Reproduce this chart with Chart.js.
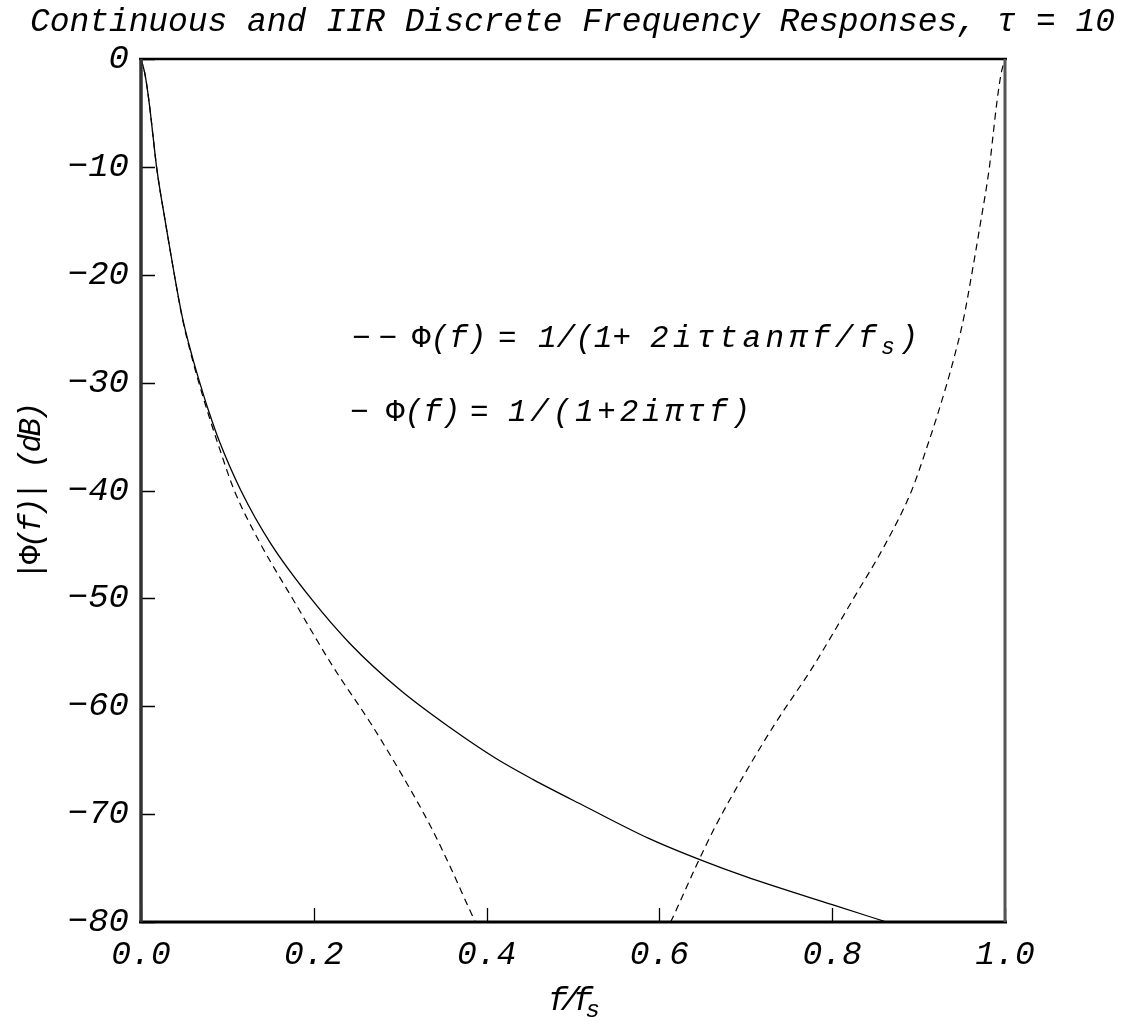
<!DOCTYPE html>
<html>
<head>
<meta charset="utf-8">
<script src="https://cdn.jsdelivr.net/npm/chart.js@4.4.1/dist/chart.umd.min.js"></script>
<style>
  html, body { margin: 0; padding: 0; background: #fff; }
  canvas { display: block; }
</style>
</head>
<body>
<canvas id="chart" width="1122" height="1026"></canvas>
<script>
// continuous response (f/fs, dB)
const freqCont = [0, 0.0046, 0.0097, 0.014, 0.018, 0.0286, 0.0386, 0.048, 0.059, 0.068,
  0.079, 0.090, 0.1156, 0.150, 0.1976, 0.242, 0.300, 0.358, 0.410, 0.454, 0.512, 0.589,
  0.646, 0.700, 0.800, 0.863];
const dbCont = [0, -1.4, -4.2, -7.2, -10.0, -15.3, -20.0, -24.0, -27.5, -30.0,
  -32.8, -35.3, -40.0, -44.9, -50.1, -54.2, -58.5, -62.0, -64.8, -66.8, -69.2, -72.3,
  -74.2, -75.8, -78.4, -80.0];

// IIR (bilinear) response, dashed; null = gap where it drops below -80
const freqIIR = [0, 0.0046, 0.0097, 0.014, 0.018, 0.0286, 0.0386, 0.048, 0.059, 0.068,
  0.079, 0.090, 0.108, 0.138, 0.176, 0.222, 0.266, 0.303, 0.335, 0.358, 0.380, 0.387,
  0.5,
  0.613, 0.620, 0.642, 0.665, 0.697, 0.734, 0.778, 0.824, 0.862, 0.892, 0.910,
  0.921, 0.932, 0.941, 0.952, 0.9614, 0.9714, 0.982, 0.986, 0.9903, 0.9954, 1.0];
const dbIIR = [0, -1.4, -4.2, -7.2, -10.0, -15.3, -20.0, -24.1, -27.7, -30.3,
  -33.2, -35.9, -40.0, -44.9, -50.1, -56.3, -61.6, -66.5, -71.1, -74.9, -78.8, -80.0,
  null,
  -80.0, -78.8, -74.9, -71.1, -66.5, -61.6, -56.3, -50.1, -44.9, -40.0, -35.9,
  -33.2, -30.3, -27.7, -24.1, -20.0, -15.3, -10.0, -7.2, -4.2, -1.4, 0];

const xRange = [0, 1];
const yRange = [-80, 0];

const FONT = '"Liberation Mono", "DejaVu Sans Mono", monospace';

function setFont(ctx, r) {
  ctx.font = (r.italic === false ? '' : 'italic ') + r.size + 'px ' + FONT;
}

// draws a list of text runs starting at x0, spread so the last glyph ends near x1
function drawRuns(ctx, runs, x0, x1, y) {
  ctx.letterSpacing = '0px';
  let natural = 0, chars = 0;
  runs.forEach(r => { setFont(ctx, r); natural += ctx.measureText(r.text).width; chars += [...r.text].length; });
  const sp = (x1 != null && chars > 1) ? (x1 - x0 - natural) / (chars - 1) : 0;
  let cx = x0;
  ctx.textAlign = 'left';
  ctx.textBaseline = 'alphabetic';
  runs.forEach(r => {
    setFont(ctx, r);
    ctx.letterSpacing = sp + 'px';
    ctx.fillText(r.text, cx, y + (r.dy || 0));
    ctx.letterSpacing = '0px';
    cx += ctx.measureText(r.text).width + sp * [...r.text].length;
  });
}

const labelsPlugin = {
  id: 'labels',
  afterDraw(chart) {
    const ctx = chart.ctx;
    ctx.save();
    ctx.fillStyle = '#000';

    drawRuns(ctx, [{ text: 'Continuous and IIR Discrete Frequency Responses, τ = 10', size: 33 }],
      30, 1115, 31);

    drawRuns(ctx, [{ text: 'f/f', size: 33 }, { text: 's', size: 24, dy: 7 }], 548, 600, 1010);

    ctx.save();
    ctx.translate(40, 580);
    ctx.rotate(-Math.PI / 2);
    drawRuns(ctx, [{ text: '|Φ', size: 31, italic: false }, { text: '(f)| (dB)', size: 31 }], 0, 178, 0);
    ctx.restore();

    const S = 31;
    // legend line 1 (dashed)
    drawRuns(ctx, [{ text: '−−', size: S, italic: false }], 352, 397, 347);
    drawRuns(ctx, [{ text: 'Φ', size: S, italic: false }, { text: '(f)', size: S }], 412, null, 347);
    drawRuns(ctx, [{ text: '=', size: S }], 498, null, 347);
    drawRuns(ctx, [{ text: '1/(1+', size: S }], 538, null, 347);
    drawRuns(ctx, [{ text: '2iτtanπf/f', size: S }, { text: 's', size: 23, dy: 7 }, { text: ')', size: S }],
      650, 918, 347);
    // legend line 2 (solid)
    drawRuns(ctx, [{ text: '−', size: S, italic: false }], 350, null, 421);
    drawRuns(ctx, [{ text: 'Φ', size: S, italic: false }, { text: '(f)', size: S }], 386, null, 421);
    drawRuns(ctx, [{ text: '=', size: S }], 470, null, 421);
    drawRuns(ctx, [{ text: '1/(1+2iπτf)', size: S }], 508, 750, 421);
    ctx.restore();
  }
};

const framePlugin = {
  id: 'frame',
  afterDatasetsDraw(chart) {
    const { ctx, chartArea: a, scales: { x, y } } = chart;
    ctx.save();
    ctx.strokeStyle = '#000';
    ctx.lineWidth = 1.3;
    ctx.beginPath();
    x.ticks.forEach(t => {
      const px = Math.round(x.getPixelForValue(t.value)) + 0.5;
      ctx.moveTo(px, a.bottom); ctx.lineTo(px, a.bottom - 14);
    });
    y.ticks.forEach(t => {
      const py = Math.round(y.getPixelForValue(t.value)) + 0.5;
      ctx.moveTo(a.left, py); ctx.lineTo(a.left + 14, py);
    });
    ctx.stroke();

    const edge = (x1, y1, x2, y2, w, c) => {
      ctx.lineWidth = w; ctx.strokeStyle = c;
      ctx.beginPath(); ctx.moveTo(x1, y1); ctx.lineTo(x2, y2); ctx.stroke();
    };
    edge(a.left - 2, a.top, a.right + 2, a.top, 2.6, '#000');
    edge(a.left - 2, a.bottom, a.right + 2, a.bottom, 3, '#000');
    edge(a.left, a.top, a.left, a.bottom, 3.5, '#333');
    edge(a.right, a.top, a.right, a.bottom, 3, '#555');
    ctx.restore();
  }
};

const toPoints = (xs, ys) => xs.map((v, i) => ({ x: v, y: ys[i] }));

new Chart(document.getElementById('chart'), {
  type: 'line',
  data: {
    datasets: [
      {
        label: 'Φ(f) = 1/(1+2iπτf)',
        data: toPoints(freqCont, dbCont),
        borderColor: '#000',
        borderWidth: 1.3,
        pointRadius: 0,
        cubicInterpolationMode: 'monotone',
        fill: false
      },
      {
        label: 'Φ(f) = 1/(1+ 2iτtanπf/fs)',
        data: toPoints(freqIIR, dbIIR),
        borderColor: '#000',
        borderWidth: 1.2,
        borderDash: [7, 5],
        pointRadius: 0,
        spanGaps: false,
        cubicInterpolationMode: 'monotone',
        fill: false
      }
    ]
  },
  options: {
    responsive: false,
    animation: false,
    devicePixelRatio: 1,
    layout: { padding: { left: 0, right: 117, top: 59, bottom: 0 } },
    plugins: {
      legend: { display: false },
      tooltip: { enabled: false },
      title: { display: false }
    },
    scales: {
      x: {
        type: 'linear',
        min: xRange[0],
        max: xRange[1],
        grid: { display: false, drawTicks: false },
        border: { display: false },
        ticks: {
          stepSize: 0.2,
          padding: 13,
          color: '#000',
          maxRotation: 0,
          font: { family: FONT, size: 33, style: 'italic' },
          callback: v => v.toFixed(1)
        },
        afterFit: s => { s.height = 104; }
      },
      y: {
        min: yRange[0],
        max: yRange[1],
        grid: { display: false, drawTicks: false },
        border: { display: false },
        ticks: {
          stepSize: 10,
          padding: 12,
          color: '#000',
          font: { family: FONT, size: 34, style: 'italic' },
          callback: v => (v < 0 ? '\u2212' + Math.abs(v) : String(v))
        },
        afterFit: s => { s.width = 141; }
      }
    }
  },
  plugins: [framePlugin, labelsPlugin]
});
</script>
</body>
</html>
